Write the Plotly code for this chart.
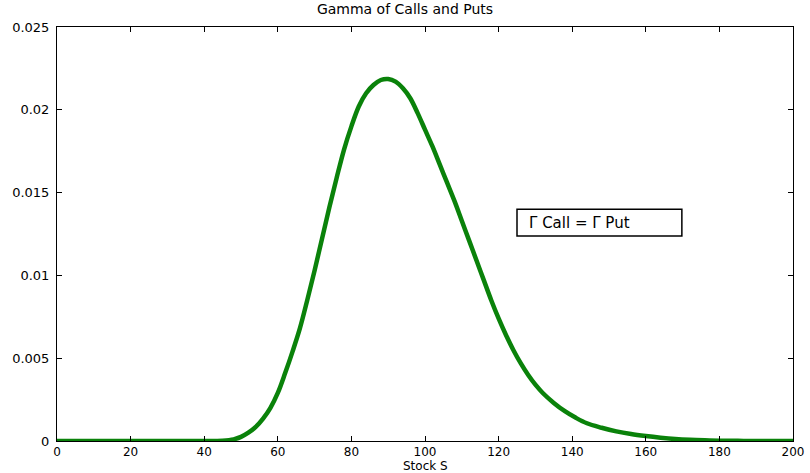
import plotly.graph_objects as go

stock_s = [0, 10, 20, 30, 40, 45, 48, 50, 52, 54, 56, 58, 60, 62, 64, 66, 68, 70,
           72, 74, 76, 78, 80, 82, 84, 86, 88, 90, 92, 94, 96, 98, 100, 102, 104,
           106, 108, 110, 112, 114, 116, 118, 120, 122, 124, 126, 128, 130, 132,
           135, 138, 141, 144, 148, 152, 156, 160, 164, 168, 172, 176, 180, 185,
           190, 200]
gamma = [0, 0, 0, 0, 0, 0.00002, 0.00010, 0.00025, 0.00050, 0.00085, 0.00135,
         0.0020, 0.0029, 0.0041, 0.0054, 0.0068, 0.0085, 0.0103, 0.0122, 0.0141,
         0.0159, 0.0176, 0.0190, 0.0202, 0.0210, 0.0215, 0.02180, 0.02186,
         0.0217, 0.0213, 0.0207, 0.0198, 0.0188, 0.0178, 0.0167, 0.0156, 0.0145,
         0.0133, 0.0121, 0.0109, 0.0097, 0.0085, 0.0074, 0.0064, 0.0055, 0.0047,
         0.0040, 0.0034, 0.0029, 0.0023, 0.0018, 0.0014, 0.00107, 0.0008,
         0.00058, 0.00042, 0.0003, 0.0002, 0.00012, 0.00007, 0.00004, 0.00002,
         0.00001, 0, 0]

x_ticks = [0, 20, 40, 60, 80, 100, 120, 140, 160, 180, 200]
y_ticks = [0, 0.005, 0.01, 0.015, 0.02, 0.025]
y_tick_labels = ["0", "0.005", "0.01", "0.015", "0.02", "0.025"]

FONT = "DejaVu Sans, Verdana, sans-serif"

fig = go.Figure()
fig.add_trace(go.Scatter(
    x=stock_s, y=gamma, mode="lines", name="Γ Call = Γ Put",
    line=dict(color="#0a820a", width=4.5, shape="spline", smoothing=1.0),
    showlegend=False,
))

axis_common = dict(
    showgrid=False, zeroline=False, showline=True, linecolor="black",
    linewidth=1, mirror="ticks", ticks="inside", ticklen=5, tickcolor="black",
    automargin=False,
)

fig.update_layout(
    width=810, height=473,
    margin=dict(l=57, r=17, t=27, b=32),
    paper_bgcolor="white", plot_bgcolor="white",
    title=dict(text="Gamma of Calls and Puts", x=0.5, xanchor="center",
               y=0.992, yanchor="top",
               font=dict(family=FONT, size=14, color="black")),
    xaxis=dict(range=[0, 200], tickvals=x_ticks, ticklabelstandoff=0,
               tickfont=dict(family=FONT, size=12, color="black"),
               **axis_common),
    yaxis=dict(range=[0, 0.025], tickvals=y_ticks, ticktext=y_tick_labels,
               ticklabelstandoff=4,
               tickfont=dict(family=FONT, size=13, color="black"),
               **axis_common),
    shapes=[dict(
        type="rect", xref="paper", yref="paper",
        x0=0.625, x1=0.849, y0=0.495, y1=0.560,
        line=dict(color="black", width=1.5), fillcolor="white", layer="above",
    )],
    annotations=[
        dict(
            text="Γ Call = Γ Put", xref="paper", yref="paper",
            x=0.6386, y=0.5275, xanchor="left", yanchor="middle",
            showarrow=False, align="left",
            font=dict(family=FONT, size=15, color="black"),
        ),
        dict(
            text="Stock S", xref="paper", yref="paper",
            x=0.5, y=-0.0604, xanchor="center", yanchor="middle",
            showarrow=False,
            font=dict(family=FONT, size=12, color="black"),
        ),
    ],
)

fig.write_html("out.html", config={"displayModeBar": False},
               post_script="document.body.style.margin='0';")
